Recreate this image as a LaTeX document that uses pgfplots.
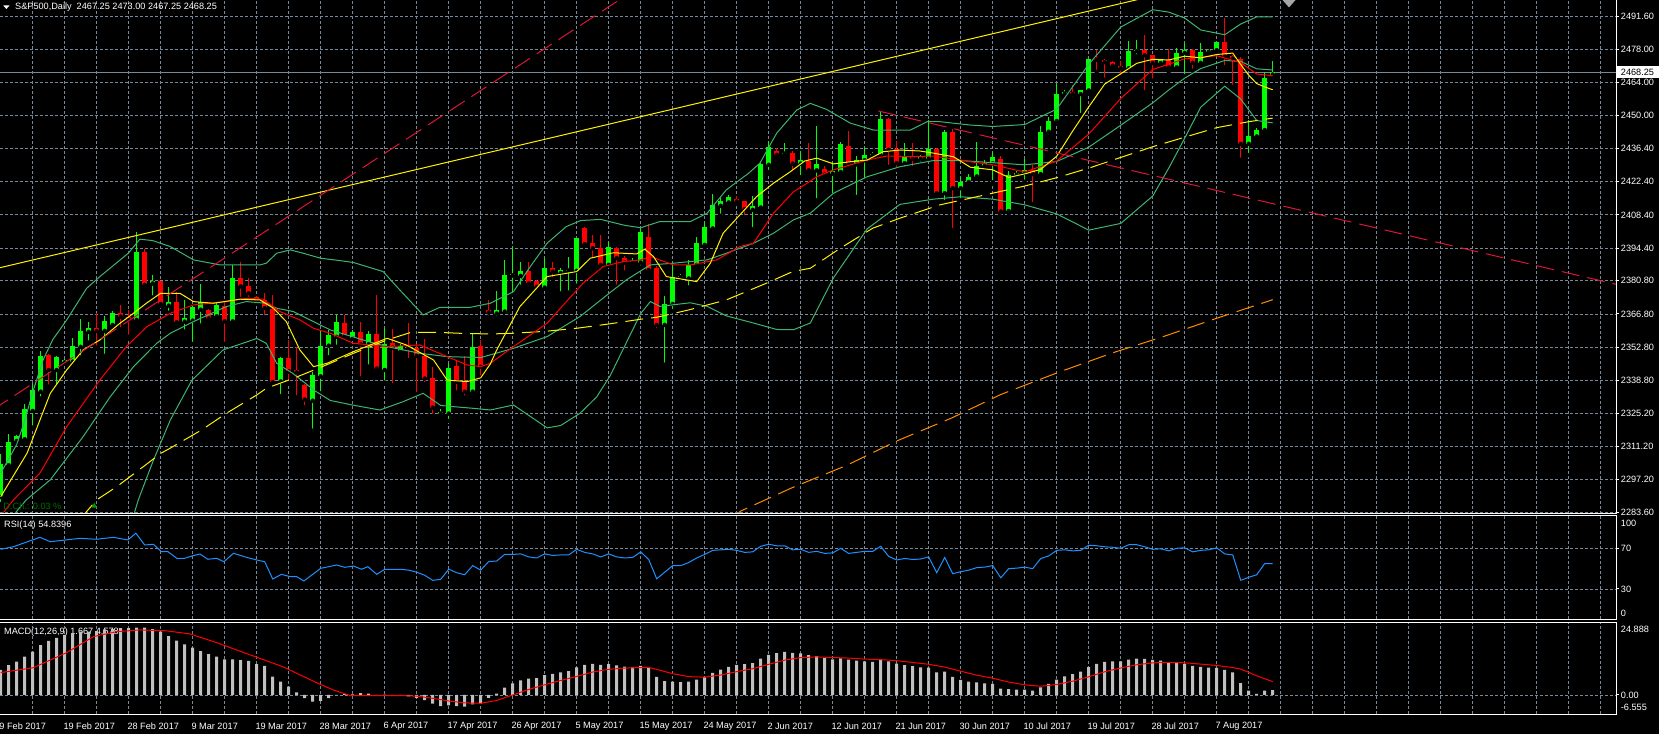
\documentclass[border=0pt]{standalone}
\usepackage{fontspec}
\setmainfont{Liberation Sans}
\usepackage{pgfplots}
\usepackage{pgfplotstable}
\pgfplotsset{compat=1.18}
\definecolor{gridc}{RGB}{119,136,153}
\definecolor{bbgreen}{RGB}{60,179,113}
\definecolor{cup}{RGB}{0,255,0}
\definecolor{cdn}{RGB}{255,0,0}
\definecolor{crimsonc}{RGB}{220,20,60}
\definecolor{orangec}{RGB}{255,140,0}
\definecolor{rsiblue}{RGB}{30,144,255}
\definecolor{histc}{RGB}{192,192,192}
\definecolor{dchgreen}{RGB}{0,110,0}
\newcommand{\lbl}{\fontsize{9.2}{11}\selectfont}

\pgfplotstableread{
k O H L C
0 2290.0 2307.9 2287.0 2303.7
1 2303.3 2316.3 2302.3 2313.1
2 2313.5 2315.9 2313.3 2315.6
3 2314.2 2329.2 2313.5 2326.8
4 2326.1 2337.3 2319.1 2334.8
5 2334.2 2351.3 2331.4 2349.2
7 2343.3 2349.2 2336.3 2348.8
8 2346.5 2347.8 2346.0 2347.5
9 2346.8 2356.9 2346.0 2353.3
10 2353.0 2364.5 2348.5 2359.7
11 2359.3 2363.5 2354.8 2361.0
13 2359.7 2366.0 2349.2 2363.9
14 2362.2 2368.1 2361.8 2367.3
17 2364.3 2401.0 2364.0 2392.9
19 2379.6 2383.2 2373.7 2380.7
21 2370.3 2378.0 2367.3 2372.0
23 2363.6 2372.7 2359.4 2365.0
24 2364.0 2370.3 2354.2 2369.6
25 2368.6 2379.4 2361.9 2371.7
27 2365.8 2372.0 2364.7 2370.7
29 2363.7 2387.5 2362.9 2381.9
35 2338.5 2348.9 2332.3 2348.2
39 2330.4 2342.3 2317.8 2341.3
40 2340.6 2360.2 2333.5 2353.5
41 2353.5 2360.2 2348.6 2358.1
42 2357.2 2366.4 2353.0 2363.5
44 2356.6 2360.1 2356.6 2359.3
46 2354.1 2359.7 2344.7 2358.3
48 2343.3 2360.8 2338.0 2354.1
50 2351.3 2354.1 2350.6 2353.4
55 2325.0 2326.9 2324.0 2325.6
56 2325.0 2345.7 2321.9 2344.3
59 2334.2 2358.3 2334.0 2353.0
62 2367.0 2376.5 2365.0 2368.5
63 2367.8 2389.4 2367.6 2383.2
64 2383.0 2395.0 2374.8 2383.4
65 2382.8 2388.7 2378.2 2384.9
68 2377.9 2390.5 2377.9 2386.0
70 2384.0 2386.3 2375.4 2385.3
71 2385.0 2390.8 2375.8 2385.3
72 2384.9 2398.6 2378.6 2398.5
76 2387.4 2397.2 2387.0 2395.0
79 2388.6 2390.1 2387.4 2388.9
80 2388.4 2403.5 2386.3 2401.0
83 2362.2 2374.4 2345.5 2371.0
84 2371.0 2387.7 2368.0 2382.4
85 2382.3 2383.5 2380.7 2382.6
86 2381.7 2389.4 2377.9 2387.3
87 2387.4 2399.2 2386.3 2396.5
88 2395.8 2405.2 2394.7 2403.1
89 2402.7 2417.1 2402.5 2412.6
90 2412.2 2415.7 2408.0 2414.3
91 2413.6 2416.6 2413.5 2415.7
94 2410.5 2416.4 2402.4 2412.2
95 2411.5 2430.4 2410.5 2429.9
96 2429.4 2439.4 2426.4 2436.9
98 2434.1 2438.7 2432.5 2434.5
100 2429.9 2435.2 2424.2 2431.5
102 2427.1 2445.9 2414.5 2429.9
104 2425.7 2430.6 2416.6 2426.6
105 2426.4 2438.9 2426.3 2438.0
107 2429.6 2432.9 2415.9 2431.5
108 2431.3 2436.8 2422.9 2433.6
109 2433.5 2434.8 2432.8 2433.8
110 2433.4 2451.5 2433.2 2448.7
113 2430.1 2438.7 2427.8 2432.9
115 2432.0 2433.4 2429.9 2432.7
116 2432.0 2448.3 2431.9 2436.1
118 2417.5 2444.1 2413.8 2443.1
120 2419.6 2424.5 2414.5 2422.2
121 2422.2 2425.5 2421.5 2424.5
122 2424.5 2439.0 2423.5 2429.0
123 2429.0 2431.5 2428.0 2430.0
124 2430.0 2434.9 2422.1 2432.5
126 2410.0 2426.9 2409.0 2425.2
127 2425.2 2427.0 2424.0 2426.0
128 2426.0 2432.0 2422.3 2427.4
130 2425.5 2445.8 2424.5 2443.3
131 2443.3 2449.3 2441.4 2447.8
132 2447.8 2463.5 2446.7 2459.3
133 2459.3 2461.0 2458.0 2460.0
135 2459.1 2460.9 2450.3 2460.6
136 2460.6 2473.8 2460.0 2473.8
141 2469.9 2481.2 2469.0 2477.1
142 2477.1 2481.7 2474.9 2477.8
145 2472.1 2474.0 2471.0 2473.5
147 2470.3 2478.5 2470.0 2476.4
148 2476.4 2480.4 2466.5 2477.6
150 2472.2 2480.4 2472.1 2476.8
151 2476.8 2478.0 2476.0 2477.5
152 2477.5 2480.9 2475.9 2480.9
156 2438.2 2448.1 2433.5 2441.3
157 2441.3 2445.0 2440.0 2444.0
158 2444.0 2468.2 2443.5 2465.8
159 2467.25 2473.0 2467.25 2468.25
}\bulltab

\pgfplotstableread{
k O H L C
6 2349.5 2349.8 2336.3 2343.3
12 2361.0 2367.4 2352.7 2359.7
15 2367.3 2370.6 2360.4 2365.7
16 2365.7 2368.4 2357.2 2364.3
18 2392.9 2394.0 2377.9 2379.0
20 2380.5 2380.8 2370.2 2371.0
22 2372.0 2375.9 2363.0 2363.3
26 2368.5 2368.9 2364.4 2364.9
28 2370.3 2371.7 2354.2 2363.7
30 2381.9 2388.8 2373.1 2378.4
31 2378.7 2381.9 2373.1 2375.5
32 2374.1 2374.3 2371.3 2372.4
33 2372.7 2375.6 2365.4 2369.3
34 2368.9 2374.9 2337.5 2338.1
36 2348.2 2355.9 2338.1 2342.7
37 2343.3 2352.8 2331.8 2342.3
38 2337.2 2337.5 2327.6 2330.9
43 2362.9 2366.4 2356.6 2357.6
45 2359.3 2363.5 2339.8 2354.1
47 2358.3 2374.8 2343.2 2343.9
49 2354.8 2360.7 2336.9 2352.7
51 2353.4 2363.2 2347.4 2352.7
52 2352.4 2354.1 2333.1 2349.2
53 2349.2 2356.5 2337.3 2339.7
54 2340.1 2344.7 2324.0 2327.5
57 2345.0 2347.4 2333.8 2338.3
58 2338.7 2349.2 2331.7 2334.2
60 2353.5 2355.9 2340.1 2344.6
61 2368.3 2372.6 2365.3 2367.4
66 2384.9 2388.7 2377.6 2379.6
67 2380.7 2381.1 2376.5 2378.2
69 2386.0 2388.7 2381.4 2384.6
73 2402.7 2403.5 2395.7 2396.1
74 2396.5 2400.0 2389.4 2394.4
75 2394.4 2400.0 2387.0 2387.4
77 2394.4 2395.0 2378.2 2390.2
78 2390.2 2391.2 2384.2 2388.4
81 2399.2 2404.5 2385.0 2385.2
82 2386.3 2387.0 2360.0 2362.2
92 2415.2 2416.4 2413.9 2414.0
93 2414.3 2414.4 2407.3 2410.8
97 2435.2 2436.4 2433.2 2433.6
99 2434.3 2435.3 2426.2 2429.9
101 2431.1 2438.7 2425.5 2427.1
103 2427.8 2428.7 2424.0 2425.4
106 2437.5 2443.4 2427.8 2429.9
111 2448.7 2449.2 2428.5 2435.7
112 2436.1 2439.6 2427.3 2430.1
114 2432.9 2438.7 2428.0 2431.9
117 2436.1 2436.6 2416.6 2417.5
119 2443.1 2444.5 2402.0 2419.6
125 2432.0 2433.0 2407.7 2409.8
129 2427.4 2429.3 2412.8 2425.5
134 2460.0 2462.8 2457.2 2459.1
137 2473.8 2477.6 2468.4 2473.5
138 2473.5 2473.9 2465.1 2472.5
139 2472.5 2473.0 2470.0 2471.0
140 2471.0 2473.1 2466.3 2469.9
143 2477.8 2484.0 2459.9 2475.4
144 2475.4 2475.5 2464.7 2472.1
146 2473.5 2478.0 2468.5 2470.3
149 2477.6 2478.0 2468.9 2472.2
153 2480.9 2490.9 2470.3 2474.9
154 2474.9 2475.5 2462.1 2474.0
155 2474.0 2474.5 2431.5 2438.2
}\beartab

\pgfplotsset{
  mtbase/.style={
    scale only axis, width=1616bp, anchor=south west,
    xmin=-0.0875, xmax=201.91,
    axis line style={draw=none},
    clip mode=individual,
    xtick={4,8,...,200}, xticklabels={},
    xtick style={draw=none},
    grid=major,
    major grid style={draw=gridc, line width=0.9bp, dash pattern=on 3bp off 2bp},
    ytick pos=right, yticklabel pos=right,
    ytick style={draw=white, line width=1bp},
    tick align=outside, major tick length=3bp,
    yticklabel style={anchor=west, inner sep=0pt, xshift=1.7bp, text=white, font=\lbl},
    xticklabel style={anchor=west, inner sep=0pt, yshift=-9.3bp, xshift=-1.4bp, text=white, font=\lbl},
  },
  dsh/.style={dash pattern=on 18bp off 8bp},
}

\begin{document}
\begin{tikzpicture}[x=1bp,y=1bp]
\fill[black] (-2bp,-2bp) rectangle (1661bp,736bp);

% ---------- MAIN PRICE PANEL ----------
\begin{axis}[mtbase, at={(0bp,220.3bp)}, height=513.7bp,
  ymin=2282.98, ymax=2498.58,
  ytick={2283.6,2297.2,2311.2,2325.2,2338.8,2352.8,2366.8,2380.8,2394.4,2408.4,2422.4,2436.4,2450,2464,2478,2491.6},
  yticklabels={2283.60,2297.20,2311.20,2325.20,2338.80,2352.80,2366.80,2380.80,2394.40,2408.40,2422.40,2436.40,2450.00,2464.00,2478.00,2491.60},
]
% bid line
\addplot[gridc, line width=1bp] coordinates {(-1,2468.25) (205,2468.25)};

% candles: wicks and bodies
\addplot[only marks, mark=none, error bars/.cd, y dir=plus, y explicit, error mark=none,
  error bar style={draw=cup, line width=1bp, solid}]
  table[x=k, y=L, y error plus expr={\thisrow{H}-\thisrow{L}}] {\bulltab};
\addplot[only marks, mark=none, error bars/.cd, y dir=plus, y explicit, error mark=none,
  error bar style={draw=cdn, line width=1bp, solid}]
  table[x=k, y=L, y error plus expr={\thisrow{H}-\thisrow{L}}] {\beartab};
\addplot[only marks, mark=none, error bars/.cd, y dir=plus, y explicit, error mark=none,
  error bar style={draw=cup, line width=5bp, solid}]
  table[x=k, y=O, y error plus expr={max(\thisrow{C}-\thisrow{O},0.4)}] {\bulltab};
\addplot[only marks, mark=none, error bars/.cd, y dir=plus, y explicit, error mark=none,
  error bar style={draw=cdn, line width=5bp, solid}]
  table[x=k, y=C, y error plus expr={max(\thisrow{O}-\thisrow{C},0.4)}] {\beartab};

% Bollinger bands
\addplot[bbgreen, line width=1bp] coordinates {(0,2300) (1,2306) (2,2312) (3,2322) (4,2334) (5.3,2347.5) (6.5,2356) (8.25,2364.3) (10.75,2377.6) (12.4,2382.5) (15.95,2392.3) (17.4,2398.2) (19,2397.6) (21.2,2395.1) (24.1,2389.5) (27.4,2387.4) (32.4,2387.4) (33.2,2388.1) (34.5,2392.3) (36.2,2393.7) (37.8,2392.3) (40,2390.2) (42.4,2389.2) (44.1,2388.4) (47.8,2384.6) (49.5,2378.3) (52.8,2366.4) (54.9,2369.6) (58.7,2369.6) (61.2,2371.3) (64.1,2376.2) (66.2,2386.7) (68.3,2396.5) (70.7,2403.5) (72.5,2406) (75,2406.5) (78,2404) (80,2403) (82.4,2405.6) (86.2,2405.6) (88.3,2409.1) (90.7,2418.9) (93.5,2425.9) (94.9,2430.1) (97,2442.7) (99.5,2452.4) (101.2,2455.2) (103.2,2452.7) (106.2,2446.9) (109.1,2444) (113.7,2444) (115.8,2447.5) (117.4,2447.5) (121.2,2446.1) (124,2445.5) (128,2446.3) (132,2452.8) (136,2471.6) (140,2487.2) (144,2494.5) (146,2493.5) (148,2491) (150,2486) (153,2484) (155,2488.5) (157,2491.5) (159,2491.5)};
\addplot[bbgreen, line width=1bp] coordinates {(1.5,2282) (3.2,2288.8) (6.2,2297.2) (10.3,2315.3) (13.7,2332.1) (16.6,2344.7) (19.5,2354.5) (21.2,2358.7) (24.1,2363.6) (28.2,2369.9) (30.7,2372.0) (33.2,2371.3) (34.5,2369.2) (36.6,2367.8) (39.1,2363.6) (41.2,2360.1) (45.3,2355.9) (48.3,2353.1) (52.4,2350.3) (55.8,2348.9) (60,2348.5) (64.1,2352.4) (68.3,2357.3) (72.4,2365.7) (75.8,2374.8) (78.2,2381.1) (81.2,2387.4) (84.1,2388.1) (88.3,2389.5) (90.7,2392.3) (94.1,2396.5) (96.6,2400.7) (99.1,2406.3) (101.2,2409.1) (104.1,2417.5) (108.3,2424.4) (112.4,2428.6) (116.6,2431.2) (120,2431.2) (124,2430.3) (128,2429.4) (132,2430.8) (136,2436.8) (140,2446.0) (144,2455.4) (146,2460.8) (148,2465.8) (150,2469.8) (153,2473.2) (155,2472.8) (157,2469.7) (159,2469.2)};
\addplot[bbgreen, line width=1bp] coordinates {(16.5,2281) (17.2,2288.8) (19.1,2305.5) (21.2,2322.3) (23.9,2339) (27.8,2351.7) (32,2356.5) (33.2,2354.5) (34.5,2346.1) (36.5,2341.9) (39.3,2334.5) (41.2,2330.5) (44.1,2328.5) (47.4,2326.5) (50.3,2330) (52.8,2333.5) (55,2328.4) (56.6,2327.9) (59.1,2327.2) (61.2,2326.5) (64.1,2328.6) (68.3,2319) (70,2320) (72.4,2325.1) (74.5,2332) (76.2,2341) (77.8,2352) (80,2367) (81.2,2372) (82.4,2370) (86.2,2371.5) (88.3,2370) (90.7,2366) (94.1,2363) (97,2360.3) (99.1,2360.2) (101.2,2363) (104.1,2382) (108.3,2402.5) (112.4,2412.8) (116.6,2415) (120,2416) (124,2415) (128,2412.6) (132,2408.8) (136,2402) (140,2404.8) (144,2416.3) (146,2428) (148,2440.6) (150,2453.6) (153,2462.4) (155,2457) (157,2448) (159,2447)};

% slow MAs (dashed)
\addplot[yellow, line width=1bp, dsh] coordinates {(10,2281) (12,2288.8) (14.5,2294.3) (17,2300.6) (20,2308.3) (21.2,2310.5) (25.1,2318.1) (28.2,2325.1) (32,2332.8) (33.2,2335.6) (36.6,2339.8) (40.7,2345.4) (44.1,2350.3) (48.3,2355.9) (51.2,2359.0) (54.5,2359.1) (57.4,2358.7) (61.2,2358.4) (64,2358.7) (68,2359.5) (72,2360.8) (76,2362.6) (80,2364.6) (82,2365.4) (86,2368.5) (90.7,2372.7) (95.7,2379.7) (99,2384.6) (101.2,2386.0) (105,2394.5) (109,2402.8) (112.4,2407.0) (117.4,2412.6) (121.2,2415.4) (124,2417.5) (128,2420.5) (132,2424) (136,2428) (140,2432.5) (144,2437) (148,2441) (152,2445) (156,2447.5) (159,2449)};
\addplot[orangec, line width=1bp, dsh] coordinates {(91.5,2281) (92.5,2284.1) (99,2294) (105.7,2303.2) (112,2313.5) (118.9,2323.2) (125,2333) (132.2,2342.3) (139,2350.5) (145.4,2357.4) (152,2365) (159,2372.8)};

% red MA
\addplot[cdn, line width=1bp] coordinates {(0,2282) (1.6,2288.8) (4.9,2300) (8.25,2319.5) (12.4,2339.1) (15.7,2353.1) (18.3,2361.5) (21.2,2367.1) (24.1,2370.6) (28.2,2372.0) (30.7,2373.4) (32.8,2373.0) (34.9,2367.8) (37.4,2364.3) (39.1,2360.8) (41.2,2358.7) (44.1,2354.5) (48.3,2353.1) (52.4,2353.8) (55.8,2348.9) (58.3,2345.4) (60,2344.7) (61.2,2346.1) (64.1,2353.1) (68.3,2362.9) (70.7,2372.0) (72.8,2379.7) (75.3,2386.7) (77.8,2388.8) (80,2389.5) (81.2,2390.9) (84.1,2387.4) (86.2,2387.4) (89.5,2389.5) (92.4,2395.1) (94.1,2396.5) (96.6,2409.1) (99.1,2418.1) (100.5,2421) (102,2424.4) (104.1,2427.3) (108.3,2431.4) (110.8,2433.1) (113.3,2432.8) (116.6,2433.1) (120,2431.4) (121.2,2430.7) (124,2429.4) (128,2426.4) (132,2431.0) (136,2442.3) (140,2457.2) (144,2469.4) (148,2473.9) (152,2475.2) (155,2472.3) (157,2467.5) (159,2466.8)};

% yellow fast MA
\addplot[yellow, line width=1bp] coordinates {(0,2290.1) (3.3,2308.4) (6.2,2333.5) (8.25,2343.3) (10.3,2351.7) (12.4,2355.9) (14.9,2362.9) (16.6,2367.1) (18.2,2371.3) (20,2375.5) (22.4,2375.5) (24.1,2372.0) (26.6,2371.3) (29.9,2373.0) (32.4,2372.7) (34.1,2369.2) (35.7,2363.6) (37.4,2351.7) (39.1,2344.7) (40.8,2346.1) (44.1,2351.0) (48.3,2356.6) (50.7,2353.8) (54.1,2347.5) (55.8,2339.1) (58.3,2338.4) (60,2340) (61.2,2345.8) (62,2351.7) (64.9,2369.9) (68.3,2382.5) (72,2384.6) (73.7,2390.2) (76.6,2392.5) (79.5,2392.0) (80.5,2394) (81.6,2390.9) (83.2,2382.5) (87,2380.4) (88.7,2388.1) (90.3,2400.7) (92.4,2408.4) (94.5,2416.1) (96.6,2421.7) (98.7,2426.5) (100.5,2431) (102,2432.2) (104.1,2429.8) (106.2,2430.7) (108.3,2431.4) (110.3,2434.9) (112.4,2435.6) (114.9,2435.2) (116.6,2434.3) (119.1,2432.8) (121.2,2428.4) (124,2427.3) (126,2424.1) (128,2425.6) (130,2427.5) (132,2433.0) (134,2443.6) (136,2453.7) (138,2463.3) (140,2467.6) (142,2472.0) (144,2473.7) (146,2473.4) (148,2475.0) (150,2474.3) (152,2475.7) (154,2476.3) (155,2471.5) (156,2467.0) (157,2463.5) (158,2462.1) (159,2460.9)};

% trend lines
\addplot[yellow, line width=1bp] coordinates {(-1,2385.5) (150,2505.0)};
\addplot[crimsonc, line width=1bp, dsh] coordinates {(-1,2326.6) (80,2504.5)};
\addplot[crimsonc, line width=1bp, dsh] coordinates {(109.7,2452.0) (203,2378.4)};

\draw[white, line width=1bp] (rel axis cs:0,0) -- (rel axis cs:1,0) -- (rel axis cs:1,1);
\end{axis}

% ---------- RSI PANEL ----------
\node[anchor=west, inner sep=0pt, text=white, font=\lbl] at (4bp,209bp) {RSI(14) 54.8396};
\begin{axis}[mtbase, at={(0bp,114.5bp)}, height=103.5bp,
  ymin=0, ymax=101.77,
  ytick={30,70}, yticklabels={30,70},
  extra y ticks={94.9,6.4}, extra y tick labels={100,0},
  extra y tick style={grid=none, ytick style={draw=none}},
]
\addplot[rsiblue, line width=1bp] coordinates {(0,69) (1.6,71.6) (4.9,80.8) (6.2,76.5) (9.9,79.8) (12,78.9) (14.1,80.8) (15.9,78.2) (16.9,84.8) (18,73.3) (19.1,73.9) (20.1,66.7) (20.9,66.7) (22,60.2) (23,60.2) (23.9,62.4) (24.9,64.4) (25.9,59.2) (27,60.2) (27.9,56.8) (29.1,65.1) (30.7,61.2) (32,58.5) (33,56.8) (34,39.8) (35.1,44.4) (36.2,42.1) (37,42.1) (37.9,37.9) (38.9,43.8) (40,50.3) (42,53.6) (43,51.3) (44.1,52.6) (45.1,49.4) (45.9,51.9) (47,44.4) (48,49.4) (50,49.4) (51,48.5) (52,46.5) (53,43.5) (54,38.5) (55,39.5) (56,49.5) (57,46) (58,44) (59,53) (60,48.5) (61,57) (62,57.5) (63,64) (64,64) (65,64.5) (66,61.5) (67,60.5) (68,64.5) (69,63) (70,63.5) (71,63.5) (72,69) (73,66) (74,64.5) (75,61.5) (76,64.5) (77,61.5) (78,60.5) (79,61) (80,66.5) (81,59) (82,40) (83,46.5) (84,53) (85,53) (86,56) (87,60.5) (88,64) (89,68) (90,68.5) (91,69) (92,68) (93,66) (94,66.5) (95,72) (96,74) (97,72.5) (98,72.5) (99,68.5) (100,69) (101,66) (102,67) (103,65) (104,65.5) (105,70) (106,65) (107,66) (108,67) (109,67) (110,72) (111,62) (112,58.5) (113,60) (114,59) (115,59.5) (116,61.5) (117,46) (118,61) (119,45) (120,47) (121,48.5) (122,51) (123,51.5) (124,53) (125,41) (126,50) (127,50.5) (128,51.5) (129,50) (130,60) (131,62.5) (132,68) (133,68.5) (134,67.5) (135,68) (136,73) (137,72.5) (138,71.5) (139,71) (140,70) (141,73.5) (142,73.5) (143,71.5) (144,69) (145,69.5) (146,67.5) (147,70) (148,70.5) (149,66.5) (150,68) (151,68.5) (152,70.5) (153,64.5) (154,63.5) (155,38.5) (156,41.5) (157,44) (158,55) (159,54.84)};
\draw[white, line width=1bp] (rel axis cs:0,1) -- (rel axis cs:1,1) -- (rel axis cs:1,0) -- (rel axis cs:0,0);
\end{axis}

% ---------- MACD PANEL ----------
\node[anchor=west, inner sep=0pt, text=white, font=\lbl] at (4bp,102.3bp) {MACD(12,26,9) 1.667 4.578};
\begin{axis}[mtbase, at={(0bp,20bp)}, height=91.3bp,
  ymin=-6.555, ymax=24.888,
  ytick={0}, yticklabels={0.00},
  extra y ticks={22.72,-4.37}, extra y tick labels={24.888,-6.555},
  extra y tick style={grid=none, ytick style={draw=none}},
  extra x ticks={0,8,...,152},
  extra x tick labels={9 Feb 2017,19 Feb 2017,28 Feb 2017,9 Mar 2017,19 Mar 2017,28 Mar 2017,6 Apr 2017,17 Apr 2017,26 Apr 2017,5 May 2017,15 May 2017,24 May 2017,2 Jun 2017,12 Jun 2017,21 Jun 2017,30 Jun 2017,10 Jul 2017,19 Jul 2017,28 Jul 2017,7 Aug 2017},
  extra x tick style={grid=none},
]
\addplot[ybar, bar width=3bp, bar shift=0pt, fill=histc, draw=none] coordinates {(0,8.6) (1,10.3) (2,11.5) (3,13.2) (4,14.9) (5,17.2) (6,18.6) (7,19.7) (8,20.7) (9,21.2) (10,21.8) (11,21.8) (12,22.0) (13,22.6) (14,22.7) (15,23.0) (16,23.0) (17,23.2) (18,23.2) (19,22.7) (20,21.8) (21,20.3) (22,18.7) (23,17.4) (24,16.3) (25,15.1) (26,14.1) (27,13.2) (28,12.3) (29,12.3) (30,12.0) (31,11.7) (32,10.6) (33,10.0) (34,6.3) (35,4.6) (36,2.9) (37,0.9) (38,-1.1) (39,-2.3) (40,-2.0) (41,-1.1) (42,0.05) (43,0.3) (44,0.2) (45,0.6) (46,0.5) (47,-0.1) (48,0.1) (49,-0.3) (50,-0.3) (51,-0.5) (52,-1.0) (53,-1.8) (54,-3.0) (55,-3.8) (56,-3.6) (57,-3.8) (58,-4.0) (59,-3.2) (60,-3.0) (61,-1.0) (62,0.5) (63,2.5) (64,4.0) (65,5.0) (66,5.6) (67,5.8) (68,6.8) (69,7.3) (70,7.8) (71,8.2) (72,9.5) (73,10.4) (74,10.7) (75,10.4) (76,10.6) (77,10.2) (78,9.8) (79,9.5) (80,10.0) (81,9.6) (82,6.2) (83,4.8) (84,4.6) (85,4.4) (86,4.6) (87,5.3) (88,6.2) (89,7.6) (90,8.7) (91,9.7) (92,10.4) (93,10.6) (94,11.0) (95,12.5) (96,13.8) (97,14.4) (98,14.8) (99,14.5) (100,14.3) (101,13.7) (102,13.4) (103,12.8) (104,12.3) (105,12.6) (106,12.2) (107,11.8) (108,11.6) (109,11.4) (110,12.2) (111,11.6) (112,10.8) (113,10.3) (114,9.9) (115,9.5) (116,9.4) (117,7.8) (118,8.0) (119,6.2) (120,5.2) (121,4.6) (122,4.3) (123,4.0) (124,3.8) (125,2.2) (126,2.0) (127,1.8) (128,1.8) (129,1.5) (130,2.6) (131,3.8) (132,5.3) (133,6.4) (134,7.2) (135,8.0) (136,9.6) (137,10.7) (138,11.4) (139,11.6) (140,11.6) (141,12.2) (142,12.5) (143,12.4) (144,12.1) (145,11.8) (146,11.2) (147,11.0) (148,10.7) (149,10.0) (150,9.7) (151,9.4) (152,9.3) (153,8.6) (154,7.8) (155,4.1) (156,1.5) (157,0.4) (158,1.5) (159,1.667)};
\addplot[cdn, line width=1bp] coordinates {(0,7.7) (4.1,9.4) (8.25,14.6) (11.6,20.1) (14.5,21.8) (17.4,22.4) (20.7,22.1) (23.7,21.0) (27,18.0) (31.2,13.8) (35.3,9.7) (39.5,4.2) (41.6,1.7) (43.7,-0.2) (50,-0.2) (52,-0.41) (54,-1.15) (56,-2.07) (58,-2.73) (60,-2.87) (62,-1.89) (64,-0.01) (66,1.91) (68,3.51) (70,4.98) (72,6.39) (74,7.90) (76,8.84) (78,9.25) (80,9.44) (81,9.47) (82,8.82) (84,7.33) (86,6.31) (88,6.13) (90,6.87) (92,8.03) (94,9.04) (96,10.54) (98,12.01) (100,12.87) (102,13.11) (104,12.90) (106,12.71) (108,12.35) (110,12.17) (112,11.81) (114,11.19) (116,10.56) (118,9.61) (120,8.18) (122,6.83) (124,5.77) (126,4.45) (128,3.50) (130,3.00) (132,3.59) (134,4.76) (136,6.25) (138,7.99) (140,9.29) (142,10.40) (144,11.06) (146,11.21) (148,11.08) (150,10.63) (152,10.16) (154,9.44) (155,8.9) (156,7.8) (157,6.6) (158,5.6) (159,4.578)};
\draw[white, line width=1bp] (rel axis cs:0,1) -- (rel axis cs:1,1) -- (rel axis cs:1,0) -- (rel axis cs:0,0);
\end{axis}

% ---------- texts and markers ----------
\fill[white] (3.3bp,728.5bp) -- (9.5bp,728.5bp) -- (6.4bp,725bp) -- cycle;
\node[anchor=west, inner sep=0pt, text=white, font=\lbl] at (15bp,726.6bp) {S\&P500,Daily\hspace{5bp}2467.25 2473.00 2467.25 2468.25};
\node[anchor=west, inner sep=0pt, text=dchgreen, font=\lbl] at (3.3bp,228bp) {D.Ch.: 0.03 \%};
\fill[dchgreen!70!green] (91.7bp,226.3bp) -- (96.9bp,226.3bp) -- (94.3bp,231.3bp) -- cycle;
\fill[gray!70] (1282.5bp,734bp) -- (1295.5bp,734bp) -- (1289bp,726.5bp) -- cycle;
\fill[white] (1617bp,655.7bp) rectangle (1659bp,667.5bp);
\node[anchor=west, inner sep=0pt, text=black, font=\lbl] at (1620.7bp,661.7bp) {2468.25};

\pgfresetboundingbox
\path[use as bounding box] (0bp,0bp) rectangle (1659bp,734bp);
\end{tikzpicture}
\end{document}
